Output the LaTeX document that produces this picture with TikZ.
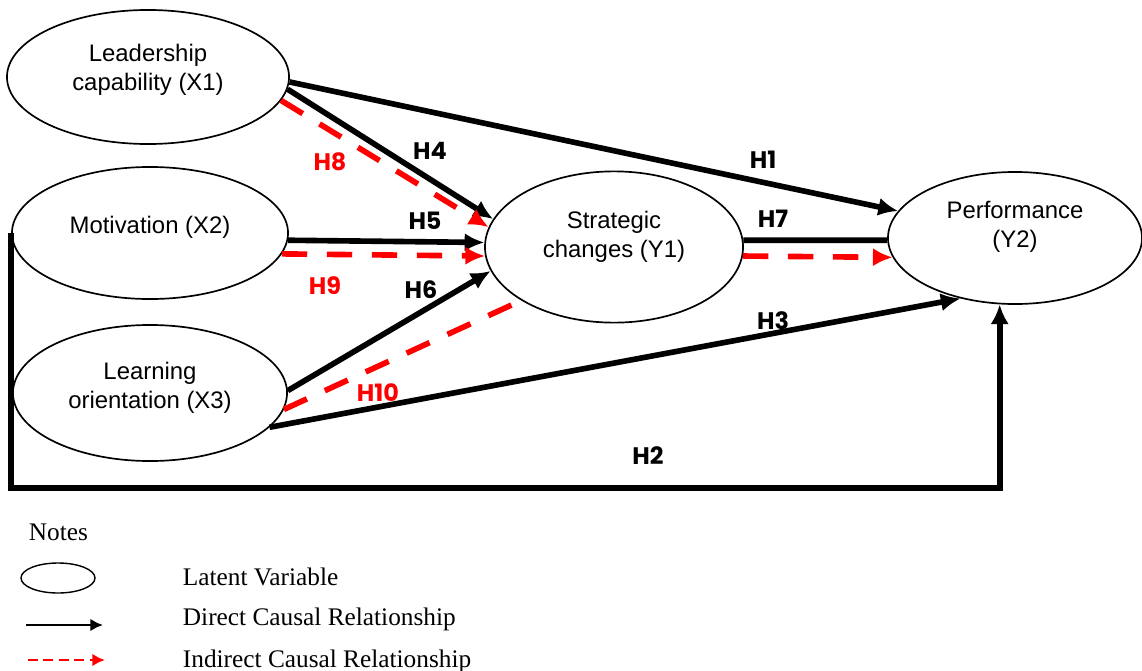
\documentclass[tikz,border=0pt]{standalone}
\usepackage{fontspec}
\setmainfont{Liberation Sans}
\newfontfamily\hfont{Poppins}
\newfontfamily\notefont{Liberation Serif}
\usetikzlibrary{positioning}
\usetikzlibrary{shapes.geometric}
\usetikzlibrary{arrows.meta}

\begin{document}
\begin{tikzpicture}[x=0.025cm,y=-0.025cm,
 latent/.style={draw,ellipse,line width=1.2pt,inner sep=0pt},
 vartext/.style={align=center,font=\fontsize{17}{21}\selectfont},
 direct/.style={line width=4pt,-{Latex[length=14pt,width=13pt]}},
 plainline/.style={line width=4pt},
 indirect/.style={red,line width=4pt,dash pattern=on 18pt off 14pt},
 indirectarr/.style={indirect,-{Latex[length=14pt,width=13pt]}},
 hyp/.style={font=\hfont\bfseries\fontsize{17}{20}\selectfont},
 hypred/.style={hyp,text=red},
 note/.style={anchor=west,font=\notefont\fontsize{18}{20}\selectfont}]
 \useasboundingbox (0,0) rectangle (1142,670);
 \node[latent,minimum width=7.05cm,minimum height=3.35cm] (x1) at (148,77) {};
 \node[latent,minimum width=6.9cm,minimum height=3.3cm] (x2) at (150,233) {};
 \node[latent,minimum width=6.85cm,minimum height=3.4cm] (x3) at (150,393) {};
 \node[latent,minimum width=6.45cm,minimum height=3.78cm] (y1) at (614,247) {};
 \node[latent,minimum width=6.35cm,minimum height=3.3cm] (y2) at (1015,238) {};
 \node[vartext] (x1t) at (148,70) {Leadership\\capability (X1)};
 \node[vartext] (x2t) at (150,227) {Motivation (X2)};
 \node[vartext] (x3t) at (150,388) {Learning\\orientation (X3)};
 \node[vartext] (y1t) at (614,237) {Strategic\\changes (Y1)};
 \node[vartext] (y2t) at (1015,227) {Performance\\(Y2)};
 \coordinate (h2c) at (500,488);

 \draw[direct] (x1.-2) -- (y2.167);
 \draw[direct] (x1.-5) -- (y1.167);
 \draw[indirectarr] (x1.-10) -- (y1.171);
 \draw[direct] (x2.-3) -- (y1.178);
 \draw[indirectarr] (x2.-9) -- (y1.184);
 \draw[direct] (x3.1) -- (y1.191);
 \draw[indirect] (x3.-7) -- (y1.210);
 \draw[direct] (x3.-16) -- (y2.228);
 \draw[plainline] (y1.3) -- (y2.181);
 \draw[indirectarr] (y1.-4) -- (y2.189);
 \draw[direct] (x2.west) |- (h2c) -| (y2.257);

 \node[hyp] (h1) at (763,160) {H1};
 \node[hyp] (h2) at (648,456) {H2};
 \node[hyp] (h3) at (773,321) {H3};
 \node[hyp] (h4) at (430,151) {H4};
 \node[hyp] (h5) at (425,221) {H5};
 \node[hyp] (h6) at (421,290) {H6};
 \node[hyp] (h7) at (773,219) {H7};
 \node[hypred] (h8) at (330,162) {H8};
 \node[hypred] (h9) at (325,286) {H9};
 \node[hypred] (h10) at (378,393) {H10};

 \node[note] (notes) at (24,532) {Notes};
 \node[latent,minimum width=1.85cm,minimum height=0.75cm,line width=1pt] (lgell) at (58,578) {};
 \coordinate (lga1) at (26,625);
 \coordinate (lga2) at (103,625);
 \coordinate (lgb1) at (28,660);
 \coordinate (lgb2) at (105,660);
 \draw[line width=2pt,-{Latex[length=9pt,width=9pt]}] (lga1) -- (lga2);
 \draw[red,line width=2pt,dash pattern=on 7pt off 4pt,-{Latex[length=9pt,width=9pt]}] (lgb1) -- (lgb2);
 \node[note] (lgt1) at (178,577) {Latent Variable};
 \node[note] (lgt2) at (178,619) {Direct Causal Relationship};
 \node[note] (lgt3) at (178,661) {Indirect Causal Relationship};
\end{tikzpicture}
\end{document}
